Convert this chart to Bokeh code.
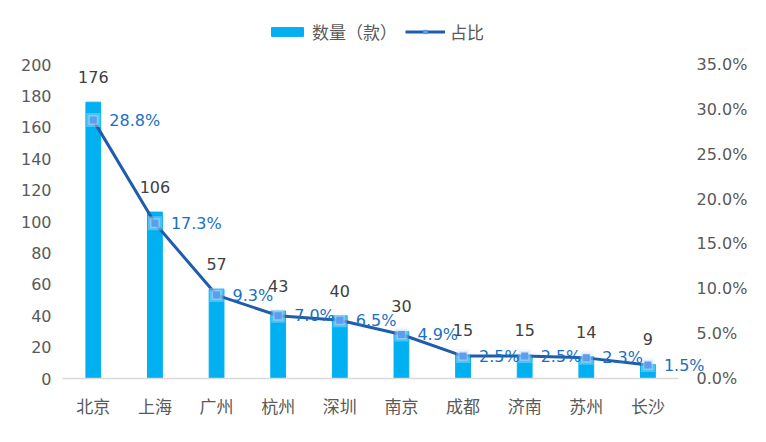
from bokeh.plotting import figure
from bokeh.models import (ColumnDataSource, Range1d, LinearAxis, FixedTicker,
                          NumeralTickFormatter, Legend, LegendItem, LabelSet)
from bokeh.core.properties import value
from bokeh.embed import file_html
from bokeh.resources import INLINE

cities = ["北京", "上海", "广州", "杭州", "深圳", "南京", "成都", "济南", "苏州", "长沙"]
counts = [176, 106, 57, 43, 40, 30, 15, 15, 14, 9]
shares = [0.288, 0.173, 0.093, 0.070, 0.065, 0.049, 0.025, 0.025, 0.023, 0.015]
share_labels = ["28.8%", "17.3%", "9.3%", "7.0%", "6.5%", "4.9%", "2.5%", "2.5%", "2.3%", "1.5%"]
left_ticks = [0, 20, 40, 60, 80, 100, 120, 140, 160, 180, 200]
right_ticks = [0, 0.05, 0.10, 0.15, 0.20, 0.25, 0.30, 0.35]

NUM_FONT = "DejaVu Sans"
CJK_FONT = "Noto Sans CJK SC"
FS = "16px"
FS_CJK = "17px"
GRAY = "#595959"

# frame spans 368 px vertically; the data area (0..200) uses the lower 314 px
TOP_FRAC = 368 / 314
# frame extends 38 px right of the last category slot so edge labels are not clipped
RIGHT_EXTRA = 38 / 62

idx = list(range(len(cities)))
src = ColumnDataSource(dict(x=idx, count=counts, share=shares,
                            count_label=[str(c) for c in counts],
                            share_label=share_labels))

p = figure(width=750, height=426,
           x_range=Range1d(-0.5, len(cities) - 0.5 + RIGHT_EXTRA),
           y_range=Range1d(0, 200 * TOP_FRAC), output_backend="svg",
           toolbar_location=None,
           min_border_left=62, min_border_right=30, min_border_top=10,
           min_border_bottom=48)
p.extra_y_ranges = {"pct": Range1d(0, 0.35 * TOP_FRAC)}
p.outline_line_color = None
p.xgrid.grid_line_color = None
p.ygrid.grid_line_color = None

bars = p.vbar(x="x", top="count", width=0.24, source=src, color="#00b0f0")
line = p.line(x="x", y="share", source=src, y_range_name="pct",
              line_color="#1f5cad", line_width=3)
p.scatter(x="x", y="share", source=src, y_range_name="pct", marker="square",
          size=14, color="#dce8fb", alpha=0.35, line_color=None)
p.scatter(x="x", y="share", source=src, y_range_name="pct", marker="square",
          size=10, color="#c4daf8", alpha=0.45, line_color=None)
pts = p.scatter(x="x", y="share", source=src, y_range_name="pct", marker="square",
                size=7, color="#5b9ef0", line_color=None)

p.add_layout(LabelSet(x="x", y="count", text="count_label", source=src,
                      text_align="center", text_baseline="bottom", y_offset=19,
                      text_font=value(NUM_FONT), text_font_size=value(FS),
                      text_color="#404040"))
p.add_layout(LabelSet(x="x", y="share", text="share_label", source=src,
                      y_range_name="pct", text_align="left", text_baseline="middle",
                      x_offset=16, text_font=value(NUM_FONT), text_font_size=value(FS),
                      text_color="#1a6fc2"))

# x axis with city names
p.xaxis.ticker = FixedTicker(ticks=idx)
p.xaxis.major_label_overrides = {i: c for i, c in zip(idx, cities)}
p.xaxis.bounds = (-0.5, len(cities) - 0.5)
p.xaxis.axis_line_color = "#d9d9d9"
p.xaxis.axis_line_width = 1.5
p.xaxis.major_tick_line_color = None
p.xaxis.minor_tick_line_color = None
p.xaxis.major_label_text_font = CJK_FONT
p.xaxis.major_label_text_font_size = FS_CJK
p.xaxis.major_label_text_color = GRAY
p.xaxis.major_label_standoff = 8

p.yaxis.ticker = FixedTicker(ticks=left_ticks)
p.yaxis.axis_line_color = None
p.yaxis.major_tick_line_color = None
p.yaxis.minor_tick_line_color = None
p.yaxis.major_label_text_font = NUM_FONT
p.yaxis.major_label_text_font_size = FS
p.yaxis.major_label_text_color = GRAY
p.yaxis.major_label_standoff = 5

ra = LinearAxis(y_range_name="pct", ticker=FixedTicker(ticks=right_ticks),
                formatter=NumeralTickFormatter(format="0.0%"))
ra.axis_line_color = None
ra.major_tick_line_color = None
ra.minor_tick_line_color = None
ra.major_label_text_font = NUM_FONT
ra.major_label_text_font_size = FS
ra.major_label_text_color = GRAY
ra.major_label_standoff = -26
p.add_layout(ra, "right")

legend = Legend(items=[LegendItem(label="数量（款）", renderers=[bars]),
                       LegendItem(label="占比", renderers=[line, pts])],
                orientation="horizontal", location=(205, 334),
                label_text_font=CJK_FONT, label_text_font_size=FS_CJK,
                label_text_color=GRAY, glyph_width=40, glyph_height=11,
                border_line_color=None, background_fill_alpha=0,
                spacing=8, padding=4, margin=0)
p.add_layout(legend, "center")

open("out.html", "w").write(file_html(p, INLINE))
